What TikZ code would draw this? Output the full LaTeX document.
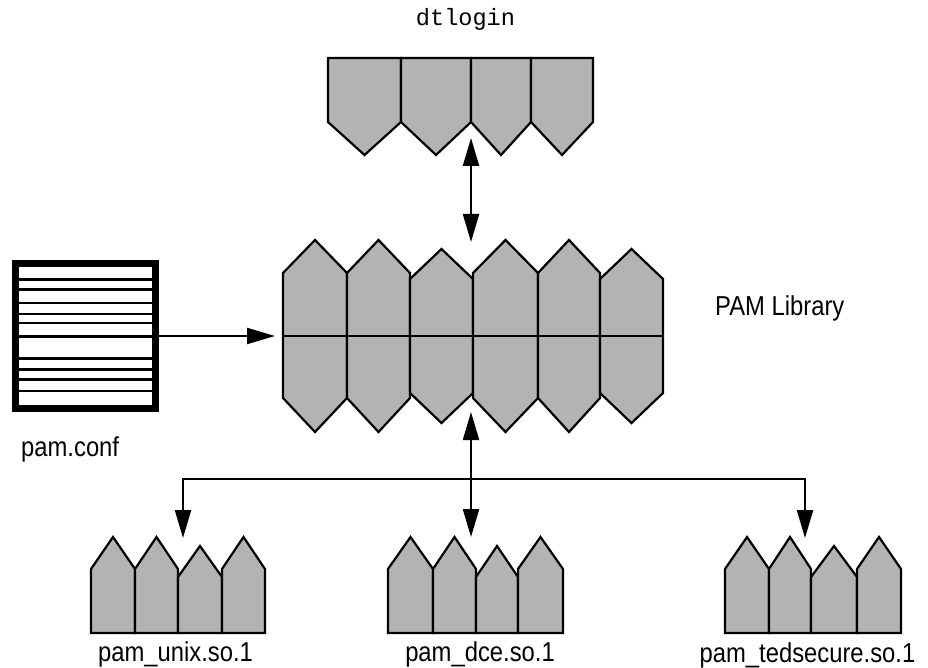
\documentclass[tikz,border=0pt]{standalone}
\usepackage{fontspec}
\setmainfont{Liberation Sans}
\newfontfamily\codefont{Liberation Mono}
\usetikzlibrary{arrows.meta}

\definecolor{modgray}{RGB}{179,179,179}

% module outlines
\tikzset{
  module/.style={fill=modgray, draw=black, line width=2.2pt, line join=miter},
  head/.tip={Triangle[length=28pt,width=16pt]},
  link/.style={line width=2.2pt, line join=miter},
  label/.style={inner sep=0pt, font=\fontsize{23.8pt}{28pt}\selectfont},
  codelabel/.style={inner sep=0pt, font=\codefont\fontsize{23.6pt}{28pt}\selectfont},
  ruleline/.style={line width=2.6pt}
}

% downward pentagon of the application block
\newcommand\dnpent[2]{%
  \filldraw[module] (#1,58) -- (#2,58) -- (#2,122) -- ({(#1+#2)/2},155) -- (#1,122) -- cycle;}
% hexagon of the library block: xl, xr, top apex, top shoulder, bottom shoulder, bottom apex
\newcommand\hexpiece[6]{%
  \filldraw[module] (#1,#4) -- ({(#1+#2)/2},#3) -- (#2,#4) -- (#2,#5) -- ({(#1+#2)/2},#6) -- (#1,#5) -- cycle;}
% upward pentagon of a service module: xl, xr, apex, shoulder
\newcommand\uppent[4]{%
  \filldraw[module] (#1,633) -- (#1,#4) -- ({(#1+#2)/2},#3) -- (#2,#4) -- (#2,633) -- cycle;}
\newcommand\tallfont[1]{\scalebox{1}[1.15]{#1}}

\begin{document}
\begin{tikzpicture}[x=1pt,y=-1pt]
\useasboundingbox (0,0) rectangle (928,668);

% application: dtlogin
\dnpent{328}{401}
\dnpent{401}{471}
\dnpent{471}{531}
\dnpent{531}{593}
\node[codelabel, anchor=base] (dtlabel) at (465.5,26) {dtlogin};

% PAM library
\hexpiece{283}{347}{240}{273}{398}{432}
\hexpiece{347}{410}{240}{273}{398}{432}
\hexpiece{410}{473}{249}{279}{393}{423}
\hexpiece{473}{538}{240}{273}{398}{432}
\hexpiece{538}{600}{240}{273}{398}{432}
\hexpiece{600}{663}{249}{279}{393}{423}
\draw[line width=2.2pt] (283,336) -- (663,336);
\node[label, anchor=base west] (pamlabel) at (715,315) {\tallfont{PAM Library}};

% configuration file
\draw[line width=7pt] (15.5,263.5) rectangle (155,408.5);
\foreach \yy in {279.7,289.7,303,314,323,336.7,358.7,369.3,379.3,391}
  \draw[ruleline] (19,\yy) -- (152,\yy);
\node[label, anchor=base west] (conflabel) at (21,456) {\tallfont{pam.conf}};

% service modules
\uppent{91}{135}{537}{569}
\uppent{135}{178}{537}{569}
\uppent{178}{222}{546}{577}
\uppent{222}{265}{537}{569}
\node[label, anchor=base] (unixlabel) at (175.5,661) {\tallfont{pam\_unix.so.1}};

\uppent{388}{433}{537}{569}
\uppent{433}{476}{537}{569}
\uppent{476}{518}{546}{577}
\uppent{518}{563}{537}{569}
\node[label, anchor=base] (dcelabel) at (480,661) {\tallfont{pam\_dce.so.1}};

\uppent{725}{769}{537}{569}
\uppent{769}{811}{537}{569}
\uppent{811}{857}{546}{577}
\uppent{857}{901}{537}{569}
\node[label, anchor=base] (teslabel) at (807.5,662) {\tallfont{pam\_tedsecure.so.1}};

% connector end points
\coordinate (dtout) at (471,138);
\coordinate (libtop) at (471,242);
\coordinate (confout) at (158,336);
\coordinate (libleft) at (275,336);
\coordinate (libbot) at (471,412);
\coordinate (dcein) at (471,537);
\coordinate (busleft) at (183,479);
\coordinate (busright) at (805,479);
\coordinate (unixin) at (183,538);
\coordinate (tesin) at (805,538);

% connectors
\draw[link, head-head] (dtout) -- (libtop);
\draw[link, -head] (confout) -- (libleft);
\draw[link, head-head] (libbot) -- (dcein);
\draw[link, head-head] (unixin) -- (busleft) -- (busright) -- (tesin);
\end{tikzpicture}
\end{document}
